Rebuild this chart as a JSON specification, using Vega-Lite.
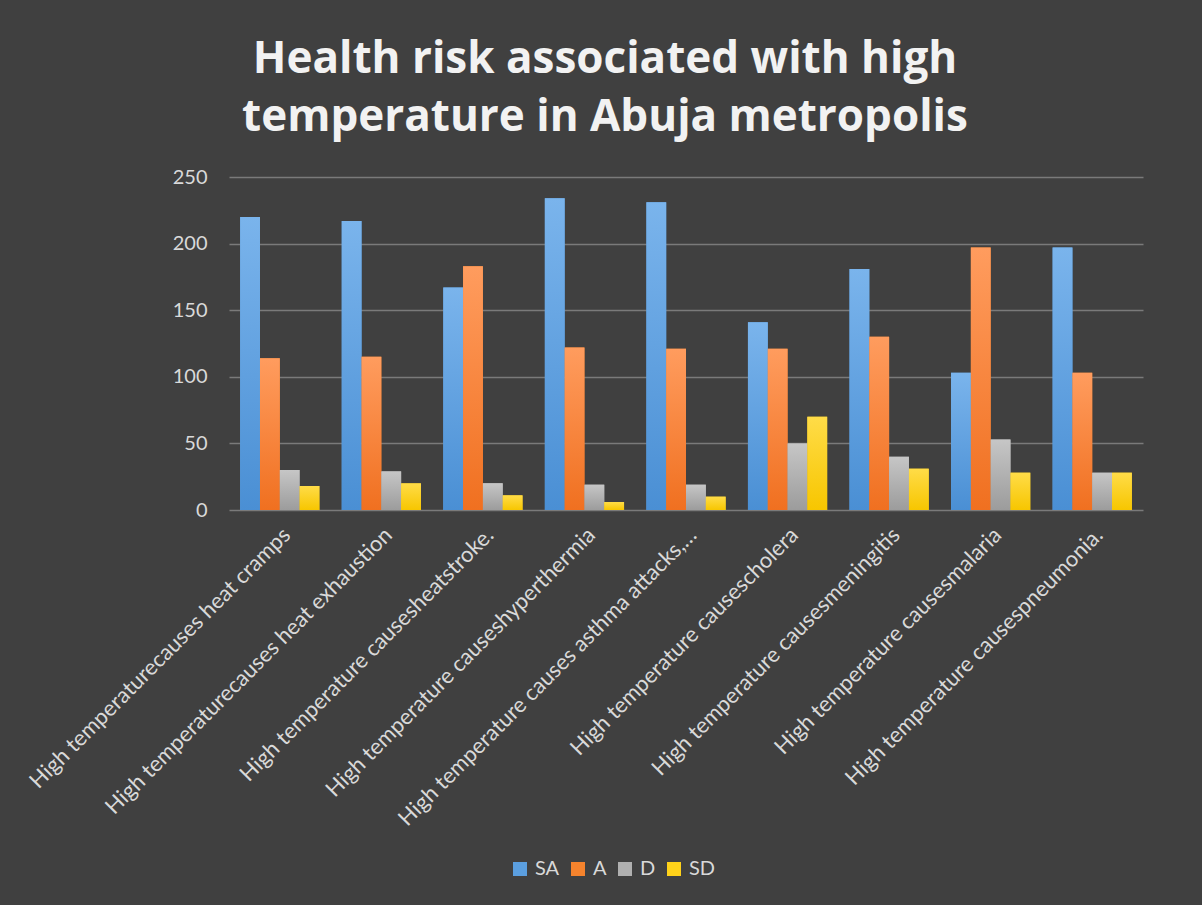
{
  "$schema": "https://vega.github.io/schema/vega-lite/v6.json",
  "width": 914,
  "height": 333,
  "autosize": "none",
  "padding": {"left": 229, "top": 177, "right": 59, "bottom": 395},
  "background": "#404040",
  "config": {
    "view": {"stroke": null},
    "font": "Lato"
  },
  "title": {
    "text": ["Health risk associated with high", "temperature in Abuja metropolis"],
    "font": "Open Sans",
    "fontSize": 44,
    "fontWeight": "bold",
    "color": "#f2f2f2",
    "anchor": "middle",
    "dx": -81,
    "lineHeight": 58,
    "offset": 27
  },
  "data": {
    "values": [
      {"cat": "High temperaturecauses heat cramps", "series": "SA", "value": 220},
      {"cat": "High temperaturecauses heat cramps", "series": "A", "value": 114},
      {"cat": "High temperaturecauses heat cramps", "series": "D", "value": 30},
      {"cat": "High temperaturecauses heat cramps", "series": "SD", "value": 18},
      {"cat": "High temperaturecauses heat exhaustion", "series": "SA", "value": 217},
      {"cat": "High temperaturecauses heat exhaustion", "series": "A", "value": 115},
      {"cat": "High temperaturecauses heat exhaustion", "series": "D", "value": 29},
      {"cat": "High temperaturecauses heat exhaustion", "series": "SD", "value": 20},
      {"cat": "High temperature causesheatstroke.", "series": "SA", "value": 167},
      {"cat": "High temperature causesheatstroke.", "series": "A", "value": 183},
      {"cat": "High temperature causesheatstroke.", "series": "D", "value": 20},
      {"cat": "High temperature causesheatstroke.", "series": "SD", "value": 11},
      {"cat": "High temperature causeshyperthermia", "series": "SA", "value": 234},
      {"cat": "High temperature causeshyperthermia", "series": "A", "value": 122},
      {"cat": "High temperature causeshyperthermia", "series": "D", "value": 19},
      {"cat": "High temperature causeshyperthermia", "series": "SD", "value": 6},
      {"cat": "High temperature causes asthma attacks,…", "series": "SA", "value": 231},
      {"cat": "High temperature causes asthma attacks,…", "series": "A", "value": 121},
      {"cat": "High temperature causes asthma attacks,…", "series": "D", "value": 19},
      {"cat": "High temperature causes asthma attacks,…", "series": "SD", "value": 10},
      {"cat": "High temperature causescholera", "series": "SA", "value": 141},
      {"cat": "High temperature causescholera", "series": "A", "value": 121},
      {"cat": "High temperature causescholera", "series": "D", "value": 50},
      {"cat": "High temperature causescholera", "series": "SD", "value": 70},
      {"cat": "High temperature causesmeningitis", "series": "SA", "value": 181},
      {"cat": "High temperature causesmeningitis", "series": "A", "value": 130},
      {"cat": "High temperature causesmeningitis", "series": "D", "value": 40},
      {"cat": "High temperature causesmeningitis", "series": "SD", "value": 31},
      {"cat": "High temperature causesmalaria", "series": "SA", "value": 103},
      {"cat": "High temperature causesmalaria", "series": "A", "value": 197},
      {"cat": "High temperature causesmalaria", "series": "D", "value": 53},
      {"cat": "High temperature causesmalaria", "series": "SD", "value": 28},
      {"cat": "High temperature causespneumonia.", "series": "SA", "value": 197},
      {"cat": "High temperature causespneumonia.", "series": "A", "value": 103},
      {"cat": "High temperature causespneumonia.", "series": "D", "value": 28},
      {"cat": "High temperature causespneumonia.", "series": "SD", "value": 28}
    ]
  },
  "encoding": {
    "x": {
      "field": "cat",
      "type": "nominal",
      "sort": null,
      "scale": {"paddingInner": 0.22, "paddingOuter": 0.11},
      "axis": {
        "title": null,
        "labelAngle": -45,
        "labelFontSize": 22,
        "labelColor": "#d9d9d9",
        "labelLimit": 600,
        "ticks": false,
        "tickSize": 0,
        "domain": false,
        "labelPadding": 14,
        "labelOffset": 0
      }
    },
    "xOffset": {"field": "series", "type": "nominal", "sort": ["SA", "A", "D", "SD"]},
    "y": {
      "field": "value",
      "type": "quantitative",
      "scale": {"domain": [0, 250]},
      "axis": {
        "title": null,
        "values": [0, 50, 100, 150, 200, 250],
        "labelFontSize": 20,
        "labelColor": "#d9d9d9",
        "ticks": false,
        "tickSize": 0,
        "labelPadding": 22,
        "domain": false,
        "grid": true,
        "gridColor": "#7a7a7a",
        "gridWidth": 1.5
      }
    }
  },
  "layer": [
    {
      "mark": {"type": "bar"},
      "encoding": {
        "color": {
          "field": "series",
          "type": "nominal",
          "scale": {"domain": ["SA", "A", "D", "SD"], "range": ["#5b9fe0", "#f5832d", "#b0b0b0", "#ffd21a"]},
          "legend": {
            "title": null,
            "orient": "none",
            "legendX": 281,
            "legendY": 682,
            "direction": "horizontal",
            "symbolType": "square",
            "symbolSize": 196,
            "symbolStrokeWidth": 0,
            "labelFontSize": 20,
            "labelColor": "#d9d9d9",
            "labelOffset": 5,
            "columnPadding": 8
          }
        }
      }
    },
    {
      "transform": [{"filter": "datum.series === 'SA'"}],
      "mark": {"type": "bar", "color": {"gradient": "linear", "x1": 0, "y1": 0, "x2": 0, "y2": 1, "stops": [{"offset": 0, "color": "#7ab4ec"}, {"offset": 1, "color": "#4a8fd4"}]}}
    },
    {
      "transform": [{"filter": "datum.series === 'A'"}],
      "mark": {"type": "bar", "color": {"gradient": "linear", "x1": 0, "y1": 0, "x2": 0, "y2": 1, "stops": [{"offset": 0, "color": "#ff9c5e"}, {"offset": 1, "color": "#f07020"}]}}
    },
    {
      "transform": [{"filter": "datum.series === 'D'"}],
      "mark": {"type": "bar", "color": {"gradient": "linear", "x1": 0, "y1": 0, "x2": 0, "y2": 1, "stops": [{"offset": 0, "color": "#c6c6c6"}, {"offset": 1, "color": "#9c9c9c"}]}}
    },
    {
      "transform": [{"filter": "datum.series === 'SD'"}],
      "mark": {"type": "bar", "color": {"gradient": "linear", "x1": 0, "y1": 0, "x2": 0, "y2": 1, "stops": [{"offset": 0, "color": "#ffdc48"}, {"offset": 1, "color": "#f7c600"}]}}
    }
  ]
}
